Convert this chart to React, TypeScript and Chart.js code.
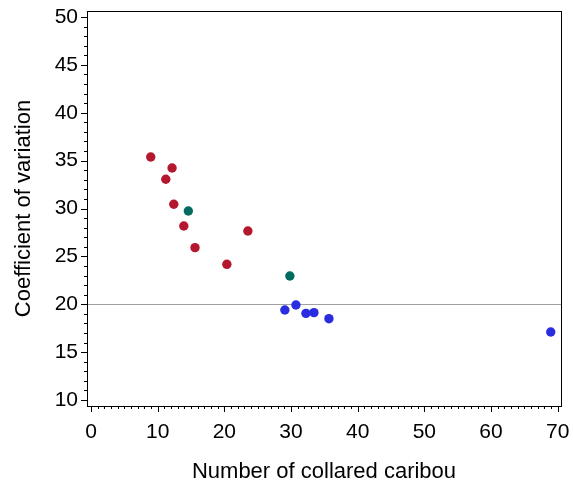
import React, { useEffect, useRef } from "react";
import { Chart, registerables } from "chart.js";

Chart.register(...registerables);

const redX = [8.96, 12.16, 11.22, 12.42, 13.92, 15.6, 20.38, 23.53];
const redY = [35.38, 34.23, 33.05, 30.44, 28.17, 25.91, 24.17, 27.65];
const tealX = [14.6, 29.83];
const tealY = [29.74, 22.95];
const blueX = [29.08, 30.74, 32.24, 33.44, 35.69, 68.96];
const blueY = [19.4, 19.92, 19.05, 19.12, 18.49, 17.1];
const xTicks = [0, 10, 20, 30, 40, 50, 60, 70];
const yTicks = [10, 15, 20, 25, 30, 35, 40, 45, 50];
const refY = 20;

const FONT = "'Liberation Sans', Arial, sans-serif";

const framePlugin = {
  id: "frame",
  afterDraw(chart: any) {
    const { ctx, chartArea: a, scales } = chart;
    const xs = scales.x;
    const ys = scales.y;
    ctx.save();
    ctx.strokeStyle = "#000";
    ctx.lineWidth = 1;
    ctx.strokeRect(Math.round(a.left) + 0.5, Math.round(a.top) + 0.5, Math.round(a.right - a.left), Math.round(a.bottom - a.top));
    ctx.beginPath();
    for (let v = 0; v <= 70; v += 1) {
      const px = Math.round(xs.getPixelForValue(v)) + 0.5;
      const len = v % 10 === 0 ? 6 : 3;
      ctx.moveTo(px, a.bottom);
      ctx.lineTo(px, a.bottom + len);
    }
    for (let v = 10; v <= 50; v += 1) {
      const py = Math.round(ys.getPixelForValue(v)) + 0.5;
      const len = v % 5 === 0 ? 6 : 3;
      ctx.moveTo(a.left, py);
      ctx.lineTo(a.left - len, py);
    }
    ctx.stroke();
    ctx.restore();
  },
  beforeDatasetsDraw(chart: any) {
    const { ctx, chartArea: a, scales } = chart;
    const py = Math.round(scales.y.getPixelForValue(refY)) + 0.5;
    ctx.save();
    ctx.strokeStyle = "#a0a0a0";
    ctx.lineWidth = 1;
    ctx.beginPath();
    ctx.moveTo(a.left, py);
    ctx.lineTo(a.right, py);
    ctx.stroke();
    ctx.restore();
  },
};

function pts(xs: number[], ys: number[]) {
  return xs.map((x, i) => ({ x, y: ys[i] }));
}

export default function App() {
  const ref = useRef<HTMLCanvasElement>(null);
  useEffect(() => {
    if (!ref.current) return;
    const mk = (data: any, color: string) => ({
      data,
      backgroundColor: color,
      borderColor: color,
      pointRadius: 4.7,
      pointBorderWidth: 0,
    });
    const chart = new Chart(ref.current, {
      type: "scatter",
      data: {
        datasets: [
          mk(pts(redX, redY), "#b5172f"),
          mk(pts(tealX, tealY), "#006b5e"),
          mk(pts(blueX, blueY), "#2b2be0"),
        ],
      },
      options: {
        animation: false,
        responsive: false,
        layout: { padding: { top: 11, right: 12, left: 0, bottom: 0 } },
        plugins: { legend: { display: false }, tooltip: { enabled: false } },
        scales: {
          x: {
            type: "linear",
            min: -0.6,
            max: 70.5,
            afterBuildTicks: (s: any) => {
              s.ticks = xTicks.map((v) => ({ value: v }));
            },
            afterFit: (s: any) => {
              s.height = 79;
              s.paddingLeft = 0;
              s.paddingRight = 0;
            },
            grid: { display: false, drawTicks: false },
            border: { display: false },
            ticks: { color: "#000", font: { family: FONT, size: 21 }, padding: 14, maxRotation: 0 },
            title: {
              display: true,
              text: "Number of collared caribou",
              color: "#000",
              font: { family: FONT, size: 22 },
              padding: { top: 6, bottom: 0 },
            },
          },
          y: {
            type: "linear",
            min: 9.37,
            max: 50.63,
            afterBuildTicks: (s: any) => {
              s.ticks = yTicks.map((v) => ({ value: v }));
            },
            afterFit: (s: any) => {
              s.width = 87;
              s.paddingTop = 0;
              s.paddingBottom = 0;
            },
            grid: { display: false, drawTicks: false },
            border: { display: false },
            ticks: { color: "#000", font: { family: FONT, size: 21 }, padding: 9 },
            title: {
              display: true,
              text: "Coefficient of variation",
              color: "#000",
              font: { family: FONT, size: 22 },
              padding: { top: 11, bottom: 6 },
            },
          },
        },
      },
      plugins: [framePlugin],
    } as any);
    return () => chart.destroy();
  }, []);
  return (
    <div style={{ position: "fixed", left: 0, top: 0, width: 573, height: 485, background: "#fff" }}>
      <canvas ref={ref} width={573} height={485} />
    </div>
  );
}
